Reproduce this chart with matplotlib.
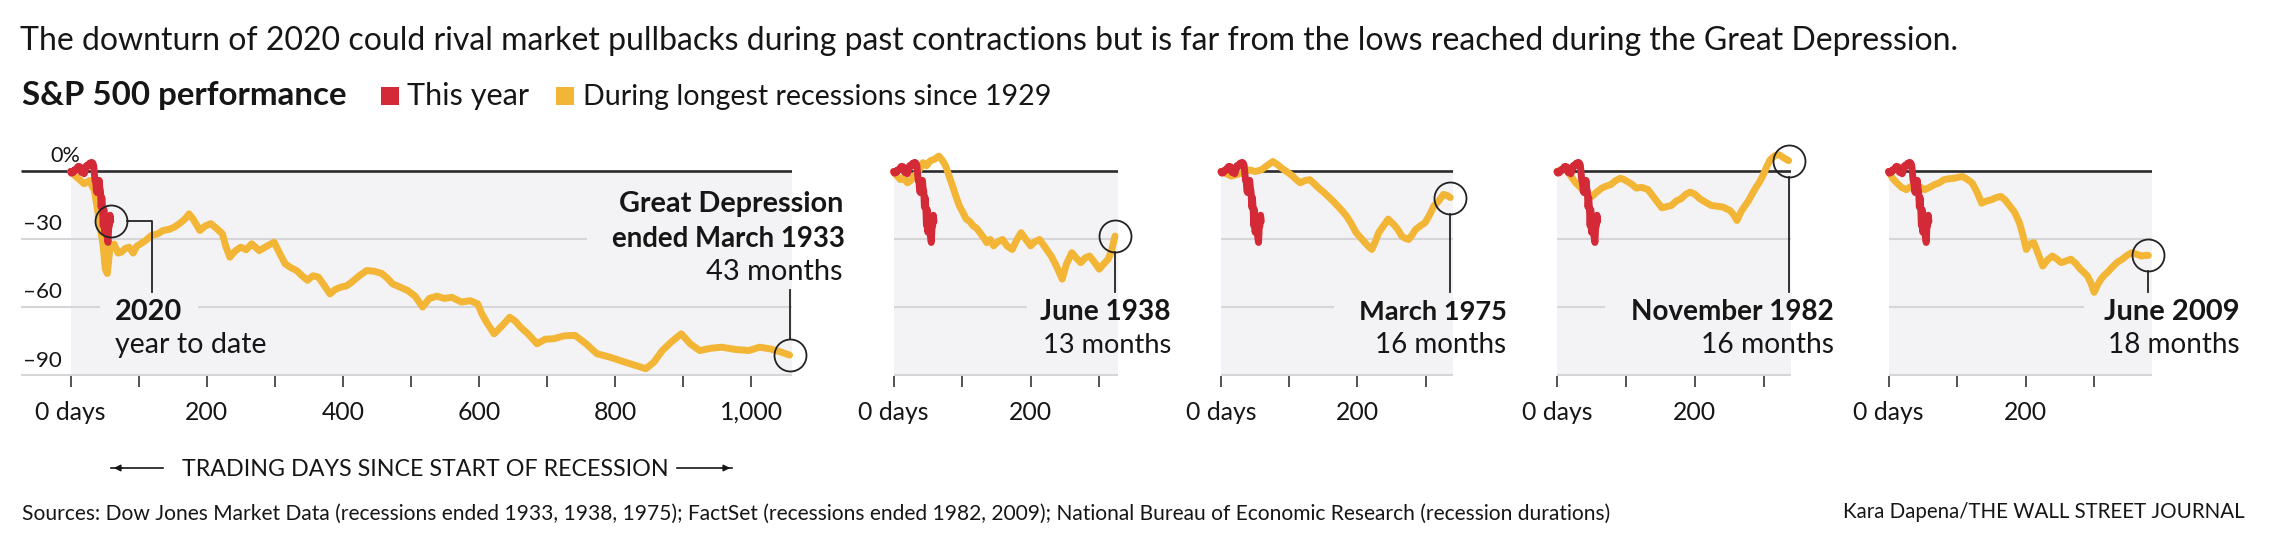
import matplotlib
matplotlib.use("Agg")
import matplotlib.pyplot as plt
from matplotlib.patches import Rectangle
from matplotlib.transforms import blended_transform_factory

# ---------------- data ----------------
# 2020, % change year to date, by trading day
red_days = list(range(0, 60))
red_vals = [0.0, -0.7, -0.4, -0.6, -0.2, 0.5, 0.2, 0.9, 0.8, 1.0,
            1.8, 2.2, 1.9, 2.0, 2.1, 1.2, -0.4, 0.6, 0.5, 0.8,
            -1.0, -0.3, 1.2, 2.4, 2.7, 2.1, 2.9, 3.1, 3.7, 3.6,
            3.8, 3.5, 3.9, 3.5, 2.5, -1.0, -4.0, -4.3, -8.6, -9.3,
            -5.1, -7.8, -3.9, -7.2, -8.8, -15.7, -11.5, -15.9, -23.9, -16.8,
            -26.8, -22.4, -26.4, -26.0, -29.3, -31.3, -24.9, -24.0, -19.3, -22.0]

# Great Depression (ended March 1933)
gd_days = [0, 9, 20, 28, 35, 43, 48, 51, 54, 58, 64, 70, 75, 80, 86, 92, 97, 103, 110, 119,
           128, 136, 145, 152, 160, 168, 174, 180, 186, 190, 198, 206, 214, 223, 228, 234, 242, 250, 258, 266,
           272, 277, 288, 299, 307, 315, 324, 332, 340, 348, 356, 364, 372, 381, 389, 397, 405, 413, 424, 435,
           446, 457, 465, 473, 484, 495, 506, 517, 527, 538, 549, 560, 574, 587, 598, 604, 612, 622, 634, 645,
           653, 661, 673, 685, 697, 709, 725, 741, 757, 773, 793, 813, 829, 845, 857, 869, 883, 897, 910, 924,
           940, 956, 976, 996, 1012, 1028, 1042, 1056]
gd_vals = [0, -2.5, -5.4, -4, -8.4, -23, -33, -43, -45, -33.4, -32, -36, -35.5, -34, -33.4, -36, -33, -31.9, -30.5, -28.2,
           -27.5, -26, -25.5, -24.6, -23, -21, -18.7, -21, -24, -26, -24, -23, -25, -27.5, -33, -37.8, -35, -33.4, -34.5, -31.9,
           -33.5, -34.9, -33, -31.2, -36, -40.7, -42.5, -43.7, -46, -48, -46, -46.6, -50, -54, -52, -51, -50.5, -48.8, -46, -43.7,
           -44, -45, -47, -49.6, -51, -52.5, -55, -59.8, -56, -55, -56, -55.5, -57.6, -57, -58.4, -62.8, -67, -71.6, -68, -64.3,
           -66, -68.7, -72, -76, -74, -73.8, -72.5, -72.3, -76, -80.4, -82, -84, -85.5, -87, -84, -79, -75, -71.6, -76, -79,
           -78, -77.5, -78.5, -79, -77.5, -78.3, -79.5, -81]

# Recession ended June 1938
r38_days = [0, 5, 10, 15, 20, 25, 30, 36, 43, 48, 53, 60, 66, 71, 76, 81, 86, 91, 96, 101,
            106, 111, 116, 121, 126, 131, 136, 141, 146, 152, 159, 166, 173, 180, 186, 193, 200, 206, 213, 220,
            230, 238, 246, 252, 260, 266, 273, 280, 286, 293, 300, 306, 313, 318, 323]
r38_vals = [0, -2, -3.6, -3, -5, -4, -2, 0, 3.9, 2.5, 4.6, 5.5, 6.8, 5, 2.4, -2, -6.4, -11, -15.2, -18,
            -21, -22, -24, -25, -27, -29, -31.4, -30, -32.8, -31, -30, -33, -34.4, -30, -27, -30, -32.8, -31, -30, -33,
            -37.3, -42, -47.5, -41, -35.8, -38, -40.2, -38, -37.3, -40, -43.1, -41, -38.7, -35, -28.5]

# Recession ended March 1975
r75_days = [0, 8, 15, 22, 29, 36, 42, 50, 59, 67, 76, 83, 89, 96, 103, 110, 116, 123, 130, 137,
            143, 150, 157, 164, 171, 178, 184, 191, 198, 204, 211, 216, 221, 226, 231, 238, 245, 250, 255, 260,
            265, 270, 275, 280, 285, 292, 299, 306, 312, 319, 326, 331, 336]
r75_vals = [0, -1, -2, -1.5, -0.7, 0, 0.7, 0, 0.7, 2.5, 4.4, 3, 1.5, 0, -1.5, -3.5, -5, -4, -3.6, -5.5,
            -7.3, -9, -11, -13, -15.2, -17.5, -19.7, -23, -27, -29, -31.4, -33, -34.4, -31, -27, -24, -21, -22.5, -24, -26,
            -28.5, -29.5, -30, -28, -25.6, -24, -22.6, -19, -15.2, -13, -10.1, -10.5, -11.5]

# Recession ended November 1982
r82_days = [0, 7, 14, 20, 27, 34, 41, 46, 51, 58, 65, 71, 78, 85, 92, 97, 102, 108, 115, 123,
            132, 142, 152, 159, 166, 173, 180, 187, 193, 200, 207, 215, 224, 232, 241, 246, 251, 256, 261, 265,
            268, 273, 278, 283, 288, 293, 298, 304, 309, 316, 322, 329, 336]
r82_vals = [0, 1, 0.7, -2, -5, -7, -9.4, -10, -10.9, -9, -7.3, -6.5, -5.8, -4, -3, -3.5, -4.4, -5.5, -7.3, -7,
            -8, -12, -16, -15.5, -15, -13, -12, -10, -9.1, -10, -12, -13.5, -15, -15.3, -15.7, -16.5, -17.2, -19, -21.6, -19,
            -17.2, -15, -12.8, -10, -7.3, -5, -2.2, 2, 5.1, 7, 7.4, 6, 4.8]

# Recession ended June 2009
r09_days = [0, 6, 12, 19, 26, 33, 40, 47, 53, 60, 67, 74, 81, 88, 95, 101, 108, 115, 122, 129,
            136, 143, 150, 157, 164, 170, 177, 184, 191, 196, 201, 206, 212, 218, 225, 232, 239, 245, 252, 259,
            266, 273, 280, 285, 290, 295, 300, 305, 310, 314, 321, 328, 334, 341, 348, 355, 362, 369, 374, 379]
r09_vals = [0, -3, -5, -7, -8, -6.5, -5.8, -7, -8, -7, -5.8, -5, -3.6, -3.2, -3, -2.6, -2.2, -3.5, -5, -9,
            -14, -13, -12.5, -11.5, -11, -12.5, -15.2, -18, -22.6, -28, -34.4, -32, -31.4, -36, -41.7, -39, -37.3, -38.5, -40.2, -39.5,
            -38.7, -40.5, -43.1, -44.5, -46, -49, -53.3, -50, -47.5, -46, -44, -41.7, -40, -38.7, -37, -35.8, -36.5, -37.3, -37, -37]

end_labels = ["Great Depression", "June 1938", "March 1975", "November 1982", "June 2009"]
end_months = ["43 months", "13 months", "16 months", "16 months", "18 months"]
y_ticks = [0, -30, -60, -90]
y_tick_labels = ["0%", "\u201330", "\u201360", "\u201390"]

# ---------------- style / layout ----------------
RED = "#d42a37"
YEL = "#f2b535"
BG = "#f3f3f5"
GRID = "#d6d6d8"
DARK = "#2b2b2b"
TXT = "#161616"
FONT = ["Lato", "DejaVu Sans"]
LW = 5.0

W, H = 2285, 545
fig = plt.figure(figsize=(W / 100, H / 100), dpi=100)
renderer = fig.canvas.get_renderer()

Y0PX, Y90PX = 171.5, 375.5
ppu = (Y90PX - Y0PX) / 90.0
YTOP = 14
top_px = Y0PX - YTOP * ppu


def put(x, y, s, w=None, ha="left", weight="normal", size=16, color=TXT):
    t = fig.text(x / W, 1 - y / H, s, ha=ha, va="baseline", fontsize=size,
                 fontweight=weight, family=FONT, color=color)
    if w:
        bw = t.get_window_extent(renderer).width
        t.set_fontsize(size * w / bw)
    return t


# layout: pixel left/right, x-limits, ticks, gridline segments (value, x-start, x-end)
panels = [
    dict(days=gd_days, vals=gd_vals, L=21.5, R=792.0, xlim=(-72, 1059.5), ticks=range(0, 1001, 100),
         labels={0: "0 days", 200: "200", 400: "400", 600: "600", 800: "800", 1000: "1,000"},
         grid=[(-30, -72, 759), (-60, -72, 43), (-60, 187, 1059.5), (-90, -72, 1059.5)]),
    dict(days=r38_days, vals=r38_vals, L=893.6, R=1117.7, xlim=(0, 327), ticks=range(0, 301, 100),
         labels={0: "0 days", 200: "200"},
         grid=[(-30, 0, 327), (-60, 0, 194), (-90, 0, 327)]),
    dict(days=r75_days, vals=r75_vals, L=1221.0, R=1453.0, xlim=(0, 340), ticks=range(0, 301, 100),
         labels={0: "0 days", 200: "200"},
         grid=[(-30, 0, 340), (-60, 0, 166), (-90, 0, 340)]),
    dict(days=r82_days, vals=r82_vals, L=1557.0, R=1791.4, xlim=(0, 340), ticks=range(0, 301, 100),
         labels={0: "0 days", 200: "200"},
         grid=[(-30, 0, 340), (-60, 0, 70), (-90, 0, 340)]),
    dict(days=r09_days, vals=r09_vals, L=1888.5, R=2152.4, xlim=(0, 385), ticks=range(0, 301, 100),
         labels={0: "0 days", 200: "200"},
         grid=[(-30, 0, 385), (-60, 0, 285), (-90, 0, 385)]),
]

label_right = [843, 1171, 1506.6, 1833.6, 2240]
label_w_bold = [225, 131, 148, 204, 135.5]
label_w_reg = [137, 128.6, 131, 133.6, 132]

CIRC_R = 16  # px
tick_fs = None
axes = []
for i, p in enumerate(panels):
    ax = fig.add_axes([p["L"] / W, 1 - Y90PX / H, (p["R"] - p["L"]) / W, (Y90PX - top_px) / H])
    ax.set_xlim(*p["xlim"])
    ax.set_ylim(-90, YTOP)
    ax.patch.set_alpha(0)
    for s in ax.spines.values():
        s.set_visible(False)
    ax.set_yticks([])
    ax.set_xticks(list(p["ticks"]))
    ax.set_xticklabels([])
    ax.tick_params(axis="x", direction="out", length=8, width=1.3, color="#444", pad=0)
    xmax = p["xlim"][1]
    ax.fill_between([0, xmax], -90, 0, color=BG, zorder=0, linewidth=0)
    for v, a, b in p["grid"]:
        ax.plot([a, b], [v, v], color=GRID, lw=1.5, zorder=1, solid_capstyle="butt")
    ax.plot([p["xlim"][0], xmax], [0, 0], color=DARK, lw=1.9, zorder=2, solid_capstyle="butt")
    ax.plot(p["days"], p["vals"], color=YEL, lw=LW, zorder=3, clip_on=False,
            solid_joinstyle="round", solid_capstyle="round")
    ax.plot(red_days, red_vals, color=RED, lw=LW, zorder=4, clip_on=False,
            solid_joinstyle="round", solid_capstyle="round")

    px_per_day = (p["R"] - p["L"]) / (p["xlim"][1] - p["xlim"][0])
    rx = CIRC_R / px_per_day
    ry = CIRC_R / ppu
    # end-of-recession circle
    cx, cy = p["days"][-1], p["vals"][-1]
    ax.plot([cx], [cy], "o", ms=2 * CIRC_R * 0.72, mfc="none", mec="#222", mew=1.3, zorder=6, clip_on=False)
    if i == 0:
        lead_top = -(290 - Y0PX) / ppu
        ax.plot([cx, cx], [lead_top, cy + ry], color="#222", lw=1.3, zorder=6, clip_on=False)
        # 2020 circle
        rcx, rcy = red_days[-1], red_vals[-1]
        ax.plot([rcx], [rcy], "o", ms=2 * CIRC_R * 0.72, mfc="none", mec="#222", mew=1.3, zorder=6, clip_on=False)
        xk = (151.7 - p["L"]) / px_per_day + p["xlim"][0]
        yk = -(292 - Y0PX) / ppu
        ax.plot([rcx + rx, xk, xk], [rcy, rcy, yk], color="#222", lw=1.3, zorder=6, clip_on=False)
    else:
        lead_bot = -(292 - Y0PX) / ppu
        ax.plot([cx, cx], [cy - ry, lead_bot], color="#222", lw=1.3, zorder=6, clip_on=False)

    # tick labels (baseline placed in figure coords)
    tr = blended_transform_factory(ax.transData, fig.transFigure)
    for xv, s in p["labels"].items():
        t = ax.text(xv, 1 - 420 / H, s, transform=tr, ha="center", va="baseline",
                    family=FONT, fontsize=17, color=TXT)
        if tick_fs is None:
            bw = t.get_window_extent(renderer).width
            tick_fs = 17 * 70 / bw
        t.set_fontsize(tick_fs)
    axes.append(ax)

# y-axis labels (first panel only)
put(50, 162, y_tick_labels[0], w=30)
for lab, base in zip(y_tick_labels[1:], [230, 298, 367]):
    put(62, base, lab, w=39, ha="right")

# panel annotations
put(843, 212, end_labels[0], w=label_w_bold[0], ha="right", weight="bold")
put(845, 247, "ended March 1933", w=234, ha="right", weight="bold")
put(843, 280, end_months[0], w=label_w_reg[0], ha="right")
for i in range(1, 5):
    put(label_right[i], 320, end_labels[i], w=label_w_bold[i], ha="right", weight="bold")
    put(label_right[i], 353, end_months[i], w=label_w_reg[i], ha="right")
put(114.7, 320, "2020", w=66.6, weight="bold")
put(114.7, 353, "year to date", w=152)

# title, legend
put(20, 50, "The downturn of 2020 could rival market pullbacks during past contractions but is far from the lows "
            "reached during the Great Depression.", w=1943)
put(22, 105, "S&P 500 performance", w=325, weight="bold")
fig.patches.append(Rectangle((381 / W, 1 - 105 / H), 18 / W, 18 / H, transform=fig.transFigure,
                             color=RED, lw=0))
put(407, 105, "This year", w=123)
fig.patches.append(Rectangle((556 / W, 1 - 105 / H), 18 / W, 18 / H, transform=fig.transFigure,
                             color=YEL, lw=0))
put(583, 105, "During longest recessions since 1929", w=469)

# axis caption with arrows
put(182, 476, "TRADING DAYS SINCE START OF RECESSION", w=487)
fig.add_artist(plt.Line2D([111 / W, 163 / W], [1 - 468 / H] * 2, color=TXT, lw=1.2))
fig.add_artist(plt.Line2D([677 / W, 732 / W], [1 - 468 / H] * 2, color=TXT, lw=1.2))
ax0 = axes[0]
ax0.annotate("", xy=(111, H - 468), xytext=(125, H - 468), xycoords="figure pixels",
             textcoords="figure pixels", arrowprops=dict(arrowstyle="-|>", lw=1.0, color=TXT,
                                                         mutation_scale=10))
ax0.annotate("", xy=(733, H - 468), xytext=(719, H - 468), xycoords="figure pixels",
             textcoords="figure pixels", arrowprops=dict(arrowstyle="-|>", lw=1.0, color=TXT,
                                                         mutation_scale=10))

# footer
put(22, 520, "Sources: Dow Jones Market Data (recessions ended 1933, 1938, 1975); FactSet (recessions ended 1982, "
             "2009); National Bureau of Economic Research (recession durations)", w=1598)
put(2245, 518, "Kara Dapena/THE WALL STREET JOURNAL", w=403, ha="right")

fig.savefig("out.png", dpi=100, facecolor="white")
